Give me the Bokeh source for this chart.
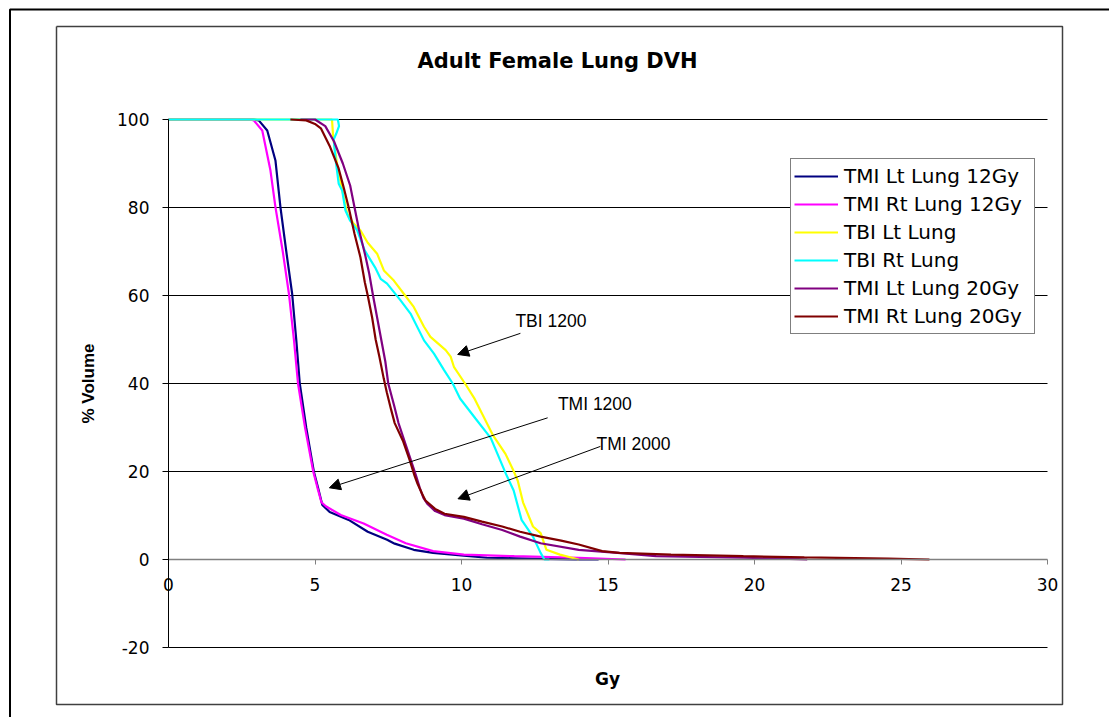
import math
from bokeh.plotting import figure
from bokeh.models import (Range1d, LinearAxis, FixedTicker, Label, Arrow,
                          NormalHead, Legend, LegendItem, PrintfTickFormatter)
from bokeh.embed import file_html
from bokeh.resources import INLINE

# ---------------- data ----------------
title_text = "Adult Female Lung DVH"
x_title = "Gy"
y_title = "% Volume"
x_ticks = [0, 5, 10, 15, 20, 25, 30]
y_ticks = [-20, 0, 20, 40, 60, 80, 100]

series_names = ["TMI Lt Lung 12Gy", "TMI Rt Lung 12Gy", "TBI Lt Lung",
                "TBI Rt Lung", "TMI Lt Lung 20Gy", "TMI Rt Lung 20Gy"]
series_colors = ["#000080", "#FF00FF", "#FFFF00", "#00FFFF", "#800080", "#800000"]

tmi_lt12_x = [0, 2.9, 3.08, 3.37, 3.65, 3.82, 4.02, 4.22, 4.36, 4.48, 4.70, 4.96, 5.10,
              5.25, 5.50, 6.15, 6.80, 7.46, 7.72, 8.37, 9.03, 10.08, 10.87, 12.7, 13.86, 14.68]
tmi_lt12_y = [100, 100, 99.8, 97.5, 90.7, 80.1, 70, 60.4, 50, 40, 30, 20, 16.4,
              12.4, 10.8, 9.0, 6.3, 4.5, 3.6, 2.2, 1.5, 0.9, 0.4, 0.15, 0.05, 0]

tmi_rt12_x = [0, 2.8, 2.91, 3.2, 3.48, 3.65, 3.9, 4.11, 4.28, 4.42, 4.66, 4.94, 5.08,
              5.22, 5.37, 5.88, 6.66, 7.45, 8.10, 9.03, 10.08, 11.8, 14.0, 15.6]
tmi_rt12_y = [100, 100, 99.8, 97.5, 88.4, 80.1, 70, 60.4, 50, 40, 30, 20, 16.4,
              13.0, 12.1, 10.1, 8.2, 5.6, 3.7, 1.9, 1.1, 0.75, 0.4, 0]

tbi_lt_x = [0, 5.58, 5.62, 5.75, 5.93, 6.10, 6.30, 6.55, 6.80, 7.12, 7.35, 7.69, 8.03,
            8.37, 8.72, 8.94, 9.46, 9.63, 9.74, 10.12, 10.45, 11.06, 11.5, 11.78, 11.92,
            12.1, 12.44, 12.70, 12.90, 13.36, 14.0]
tbi_lt_y = [100, 100, 96, 90, 84, 78.6, 76.5, 74.8, 72, 69.5, 65.7, 63.4, 60.4,
            57.4, 52.9, 50.6, 47.6, 46.1, 43.8, 40, 36.5, 28.4, 24, 20.1, 17.9,
            13, 7.5, 6.0, 2.2, 1.1, 0]

tbi_rt_x = [0, 5.78, 5.82, 5.72, 5.64, 5.70, 5.81, 5.93, 6.04, 6.20, 6.44, 6.70, 7.05,
            7.24, 7.46, 7.92, 8.26, 8.72, 9.06, 9.40, 9.70, 9.95, 10.47, 11.0, 11.52,
            11.78, 12.05, 12.44, 12.70, 12.83, 13.0]
tbi_rt_y = [100, 100, 98.5, 96.7, 95.5, 91, 85.4, 83.8, 79.3, 77, 74.8, 70.2, 66.4,
            63.8, 62.7, 58.9, 55.9, 49.8, 46.8, 43.1, 40, 36.6, 32.1, 27.6, 19.4,
            15.7, 9.0, 5.2, 1.5, 0, 0]

tmi_lt20_x = [4.5, 5.0, 5.35, 5.65, 5.95, 6.2, 6.35, 6.5, 6.72, 6.85, 6.98, 7.12, 7.26,
              7.4, 7.5, 7.7, 7.85, 8.1, 8.3, 8.45, 8.57, 8.7, 8.83, 9.1, 9.42, 10.08,
              10.7, 11.39, 12.0, 12.7, 14.0, 15.33, 16.64, 19.62, 21.5, 21.8]
tmi_lt20_y = [100, 100, 98.5, 95, 90, 85, 80, 75, 69, 65, 60, 55, 50,
              45, 40, 35, 31, 26, 22, 19, 16.4, 14, 12.7, 11, 10.1, 9.3,
              8, 6.7, 5.2, 3.7, 2.2, 1.5, 0.75, 0.4, 0.1, 0]

tmi_rt20_x = [4.16, 4.7, 5.0, 5.2, 5.5, 5.8, 6.0, 6.15, 6.35, 6.55, 6.7, 6.8, 6.95,
              7.07, 7.2, 7.35, 7.45, 7.6, 7.72, 8.0, 8.24, 8.4, 8.5, 8.65, 8.77, 9.1,
              9.42, 10.08, 10.7, 11.39, 12.0, 12.7, 13.4, 14.0, 14.8, 15.39, 17.15,
              19.62, 21.7, 24.56, 25.97]
tmi_rt20_y = [100, 99.8, 99, 98, 94, 89, 84, 80, 74, 68.7, 63, 60, 55,
              50, 46, 41, 38, 34, 31, 27, 22.4, 19, 17.2, 15, 13.4, 11.5,
              10.4, 9.7, 8.6, 7.5, 6.3, 5.2, 4.3, 3.4, 1.9, 1.5, 1.1,
              0.75, 0.5, 0.2, 0]

series_x = [tmi_lt12_x, tmi_rt12_x, tbi_lt_x, tbi_rt_x, tmi_lt20_x, tmi_rt20_x]
series_y = [tmi_lt12_y, tmi_rt12_y, tbi_lt_y, tbi_rt_y, tmi_lt20_y, tmi_rt20_y]

# ---------------- layout geometry (page pixels) ----------------
W, H = 1109, 717
X0_PX, X30_PX = 168.0, 1047.0
Y100_PX, YM20_PX = 119.0, 647.0
ppx = (X30_PX - X0_PX) / 30.0
ppy = (YM20_PX - Y100_PX) / 120.0


def dx(px):
    return (px - X0_PX) / ppx


def dy(py):
    return 100.0 - (py - Y100_PX) / ppy


p = figure(width=W, height=H,
           x_range=Range1d(dx(0), dx(W)),
           y_range=Range1d(dy(H), dy(0)),
           min_border=0, x_axis_location=None, y_axis_location=None,
           toolbar_location=None, output_backend="svg", title=None)
p.outline_line_color = None
p.background_fill_color = "white"
p.border_fill_color = "white"
p.grid.visible = False

# outer frame (only left and top edges are inside the window)
p.line([dx(9.5), dx(9.5), dx(W + 5)], [dy(H + 5), dy(9), dy(9)],
       line_color="black", line_width=2)
# chart-area box
p.line([dx(56), dx(1062), dx(1062), dx(56), dx(56)],
       [dy(26), dy(26), dy(704), dy(704), dy(26)],
       line_color="#404040", line_width=1.5)

# horizontal gridlines
grid_vals = [v for v in y_ticks if v != 0]
p.segment(x0=[x_ticks[0]] * len(grid_vals), x1=[x_ticks[-1]] * len(grid_vals),
          y0=grid_vals, y1=grid_vals, line_color="black", line_width=1)

# axes
xaxis = LinearAxis(fixed_location=0, ticker=FixedTicker(ticks=x_ticks),
                   bounds=(x_ticks[0], x_ticks[-1]),
                   formatter=PrintfTickFormatter(format="%d"))
xaxis.axis_line_color = "#808080"
xaxis.axis_line_width = 1.5
xaxis.major_tick_line_color = "#808080"
xaxis.major_tick_out = 5
xaxis.major_tick_in = 0
xaxis.minor_tick_line_color = None
xaxis.major_label_standoff = 13
xaxis.major_label_text_font = "DejaVu Sans"
xaxis.major_label_text_font_size = "17px"
xaxis.major_label_text_color = "black"
p.add_layout(xaxis, "below")

yaxis = LinearAxis(fixed_location=0, ticker=FixedTicker(ticks=y_ticks),
                   bounds=(y_ticks[0], y_ticks[-1]),
                   formatter=PrintfTickFormatter(format="%d"))
yaxis.axis_line_color = "black"
yaxis.axis_line_width = 1
yaxis.major_tick_line_color = "black"
yaxis.major_tick_out = 6
yaxis.major_tick_in = 0
yaxis.minor_tick_line_color = None
yaxis.major_label_standoff = 13
yaxis.major_label_text_font = "DejaVu Sans"
yaxis.major_label_text_font_size = "17px"
yaxis.major_label_text_color = "black"
p.add_layout(yaxis, "left")

# curves
renderers = []
for xs, ys, c in zip(series_x, series_y, series_colors):
    r = p.line(xs, ys, line_color=c, line_width=2.2)
    renderers.append(r)

legend = Legend(items=[LegendItem(label=n, renderers=[r]) for n, r in zip(series_names, renderers)],
                location=(790, 383), orientation="vertical",
                padding=3, spacing=0, margin=0,
                label_height=28, glyph_height=28, glyph_width=44, label_standoff=6,
                label_width=187,
                border_line_color="black", border_line_width=1,
                background_fill_color="white", background_fill_alpha=1.0,
                label_text_font="DejaVu Sans", label_text_font_size="20px",
                label_text_color="black")
p.add_layout(legend)

# titles
p.add_layout(Label(x=dx(557), y=dy(60), text=title_text, text_align="center",
                   text_baseline="middle", text_font="DejaVu Sans", text_font_style="bold",
                   text_font_size="21px", text_color="black"))
p.add_layout(Label(x=dx(87.5), y=dy(383), text=y_title, angle=math.pi / 2,
                   text_align="center", text_baseline="middle",
                   text_font="Liberation Sans", text_font_style="bold",
                   text_font_size="17px", text_color="black"))
p.add_layout(Label(x=dx(607), y=dy(678), text=x_title, text_align="center",
                   text_baseline="middle", text_font="DejaVu Sans", text_font_style="bold",
                   text_font_size="17px", text_color="black"))

# annotations
notes = [("TBI 1200", 11.84, 54.3, 12.01, 51.4, 9.87, 46.6),
         ("TMI 1200", 13.29, 35.4, 12.94, 32.2, 5.49, 16.3),
         ("TMI 2000", 14.61, 26.3, 14.74, 25.7, 9.88, 13.8)]
for txt, tx, ty, xs0, ys0, xe, ye in notes:
    p.add_layout(Label(x=tx, y=ty, text=txt, text_align="left", text_baseline="middle",
                       text_font="Liberation Sans", text_font_size="17.5px",
                       text_color="black"))
    p.add_layout(Arrow(end=NormalHead(size=11, fill_color="black", line_color="black",
                                      line_width=1),
                       x_start=xs0, y_start=ys0, x_end=xe, y_end=ye,
                       line_color="black", line_width=1))

open("out.html", "w").write(file_html(p, INLINE))
